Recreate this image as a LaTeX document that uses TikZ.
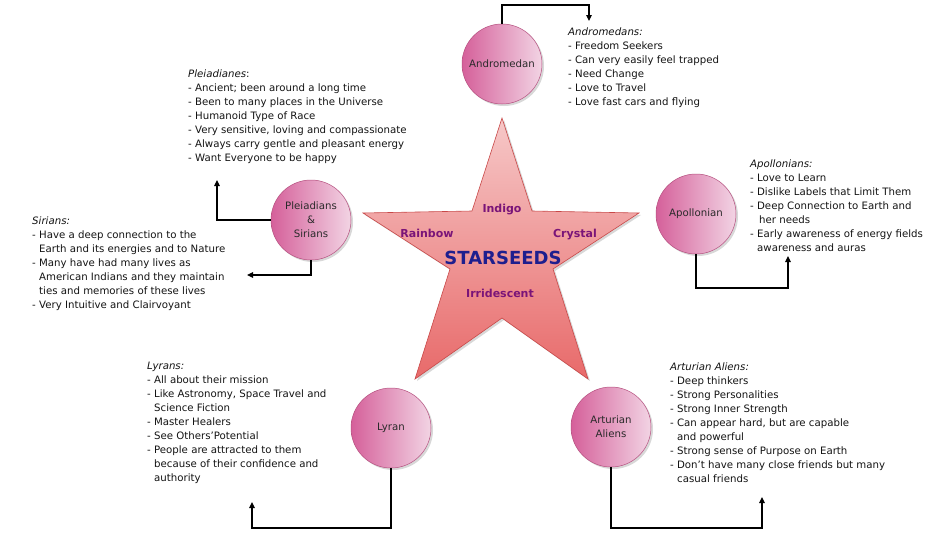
\documentclass[tikz,border=0pt]{standalone}
\usepackage{fontspec}
\setmainfont{DejaVu Sans}
\usetikzlibrary{arrows.meta,shadows}
\definecolor{circL}{HTML}{D5609A}
\definecolor{circR}{HTML}{F2D4E4}
\definecolor{circB}{HTML}{B5507F}
\definecolor{starT}{HTML}{F6C8C8}
\definecolor{starB}{HTML}{E86A6A}
\definecolor{starE}{HTML}{C84848}
\definecolor{purp}{HTML}{7A1478}
\definecolor{navy}{HTML}{1E1E8E}
\definecolor{ctext}{HTML}{2A2A2A}
\newcommand{\myind}{\hspace*{7pt}}
\begin{document}
\begin{tikzpicture}[x=1pt,y=-1pt,
  bubble/.style={circle, minimum size=80pt, inner sep=0pt, left color=circL, right color=circR,
    draw=circB, line width=0.5pt, drop shadow={opacity=0.3,shadow xshift=2pt,shadow yshift=-2pt},
    font=\fontsize{10.2}{14}\selectfont, text=ctext, align=center},
  note/.style={anchor=north west, inner sep=0pt, align=left, font=\fontsize{10.2}{14}\selectfont, text=black!92},
  conn/.style={line width=1.1pt, -{Triangle[length=6pt,width=5.5pt]}},
  starlbl/.style={font=\bfseries\fontsize{11}{13}\selectfont, text=purp}]
\useasboundingbox[fill=white] (0,0) rectangle (936,538);

% star
\draw[top color=starT, bottom color=starB, draw=starE, line width=0.6pt,
  drop shadow={opacity=0.3,shadow xshift=2pt,shadow yshift=-2pt}]
  (502,118) -- (532,211) -- (639,213) -- (553,269) -- (588,379) -- (502,318)
  -- (415,379) -- (450,269) -- (363,213) -- (472,211) -- cycle;
\node[starlbl] (indigo) at (502,210) {Indigo};
\node[starlbl] (rainbow) at (427,233) {Rainbow};
\node[starlbl] (crystal) at (575,235) {Crystal};
\node[starlbl] (irrid) at (500,293) {Irridescent};
\node[font=\bfseries\fontsize{18}{21}\selectfont, text=navy] (stars) at (503,258) {STARSEEDS};

% circles
\node[bubble] (andro) at (502,64) {Andromedan};
\node[bubble] (pleia) at (311,220) {Pleiadians\\\&\\Sirians};
\node[bubble] (apol) at (696,214) {Apollonian};
\node[bubble] (lyran) at (391,428) {Lyran};
\node[bubble] (artur) at (611,427) {Arturian\\Aliens};

% notes
\node[note] (tandro) at (568,28) {\textit{Andromedans:}\\
- Freedom Seekers\\
- Can very easily feel trapped\\
- Need Change\\
- Love to Travel\\
- Love fast cars and flying};

\node[note] (tpleia) at (188,70) {\textit{Pleiadianes}:\\
- Ancient; been around a long time\\
- Been to many places in the Universe\\
- Humanoid Type of Race\\
- Very sensitive, loving and compassionate\\
- Always carry gentle and pleasant energy\\
- Want Everyone to be happy};

\node[note] (tsir) at (32,217) {\textit{Sirians:}\\
- Have a deep connection to the\\
\myind Earth and its energies and to Nature\\
- Many have had many lives as\\
\myind American Indians and they maintain\\
\myind ties and memories of these lives\\
- Very Intuitive and Clairvoyant};

\node[note] (tapol) at (750,160) {\textit{Apollonians:}\\
- Love to Learn\\
- Dislike Labels that Limit Them\\
- Deep Connection to Earth and\\
\myind\hspace*{2pt}her needs\\
- Early awareness of energy fields\\
\myind awareness and auras};

\node[note] (tlyr) at (147,362) {\textit{Lyrans:}\\
- All about their mission\\
- Like Astronomy, Space Travel and\\
\myind Science Fiction\\
- Master Healers\\
- See Others’Potential\\
- People are attracted to them\\
\myind because of their confidence and\\
\myind authority};

\node[note] (tart) at (670,363) {\textit{Arturian Aliens:}\\
- Deep thinkers\\
- Strong Personalities\\
- Strong Inner Strength\\
- Can appear hard, but are capable\\
\myind and powerful\\
- Strong sense of Purpose on Earth\\
- Don’t have many close friends but many\\
\myind casual friends};

% connector ends
\coordinate (a1) at (589,5);
\coordinate (a2) at (589,21);
\coordinate (p1) at (217,180);
\coordinate (p2) at (247,275);
\coordinate (ap1) at (788,288);
\coordinate (ap2) at (788,256);
\coordinate (l1) at (252,528);
\coordinate (l2) at (252,502);
\coordinate (r1) at (762,528);
\coordinate (r2) at (762,497);

\draw[conn] (andro.north) |- (a1) -- (a2);
\draw[conn] (pleia.west) -| (p1);
\draw[conn] (pleia.south) |- (p2);
\draw[conn] (apol.south) |- (ap1) -- (ap2);
\draw[conn] (lyran.south) |- (l1) -- (l2);
\draw[conn] (artur.south) |- (r1) -- (r2);
\end{tikzpicture}
\end{document}
